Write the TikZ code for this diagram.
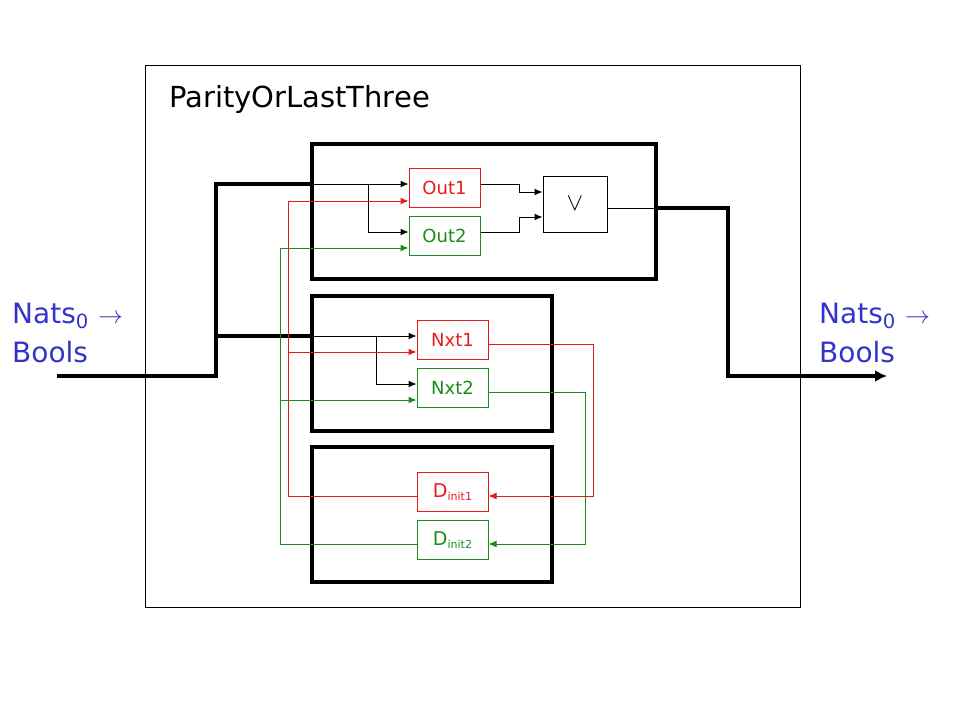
\documentclass[tikz,border=0pt]{standalone}
\usepackage{fontspec}
\setmainfont{DejaVu Sans}
\usetikzlibrary{arrows.meta,calc}
\definecolor{myred}{RGB}{235,25,25}
\definecolor{mygreen}{RGB}{25,140,25}
\definecolor{myblue}{RGB}{51,51,204}
\tikzset{
  outerbox/.style={draw=black,line width=1pt,rectangle,inner sep=0pt},
  bigbox/.style={draw=black,line width=4pt,rectangle,inner sep=0pt,minimum width=240pt,minimum height=135pt},
  blkbox/.style={draw=black,line width=1pt,rectangle,inner sep=0pt},
  redbox/.style={draw=myred,text=myred,line width=1pt,rectangle,inner sep=0pt,minimum width=71pt,minimum height=39pt,font=\fontsize{18}{18}\selectfont},
  grnbox/.style={draw=mygreen,text=mygreen,line width=1pt,rectangle,inner sep=0pt,minimum width=71pt,minimum height=39pt,font=\fontsize{18}{18}\selectfont},
  wire/.style={line width=1pt,draw=black},
  rwire/.style={line width=1pt,draw=myred},
  gwire/.style={line width=1pt,draw=mygreen},
  bus/.style={line width=4pt,draw=black},
  arr/.style={-{Latex[length=8pt,width=7pt]}},
  bigarr/.style={-{Latex[length=12pt,width=12pt]}},
  lbl/.style={text=myblue,align=left,font=\fontsize{28}{39}\selectfont,inner sep=0pt}
}
\newcommand{\dsub}[1]{{\fontsize{19}{19}\selectfont D}\raisebox{-3pt}{\fontsize{11}{11}\selectfont #1}}
\begin{document}
\begin{tikzpicture}[x=1pt,y=-1pt]
\useasboundingbox (0,0) rectangle (960,720);
% outer frame
\node[outerbox,minimum width=655pt,minimum height=542pt] (outer) at (472.5,336) {};
\node[anchor=base west,inner sep=0pt,font=\fontsize{29}{29}\selectfont] (title) at (169,107) {ParityOrLastThree};
% big boxes
\node[bigbox,minimum width=344pt] (top) at (484,211.5) {};
\node[bigbox] (mid) at (432,363.5) {};
\node[bigbox] (bot) at (432,514.5) {};
% inner boxes
\node[redbox] (Out1) at (444.5,188) {Out1};
\node[grnbox] (Out2) at (444.5,236) {Out2};
\node[blkbox,minimum width=64pt,minimum height=56pt] (Or) at (575,204) {\fontsize{26}{26}\selectfont$\vee$};
\node[redbox] (Nxt1) at (452.5,340) {Nxt1};
\node[grnbox] (Nxt2) at (452.5,388) {Nxt2};
\node[redbox] (D1) at (452.5,492) {\dsub{init1}};
\node[grnbox] (D2) at (452.5,540) {\dsub{init2}};
% labels
\node[lbl,anchor=base west] (inlbl) at (12,362) {Nats\textsubscript{0}\,\,{\fontsize{32}{32}\selectfont$\rightarrow$}\\Bools};
\node[lbl,anchor=base west] (outlbl) at (819,362) {Nats\textsubscript{0}\,\,{\fontsize{32}{32}\selectfont$\rightarrow$}\\Bools};
% coordinates
\coordinate (inL) at (57,376);
\coordinate (busT) at (216,184);
\coordinate (busM) at (216,336);
\coordinate (brO) at (368,184);
\coordinate (brN) at (376,336);
\coordinate (rcol) at (288,201);
\coordinate (rN) at (288,352);
\coordinate (gcol) at (280,248);
\coordinate (gN) at (280,400);
\coordinate (outR) at (728,208);
\coordinate (outEnd) at (887,376);
% thick input bus
\draw[bus] (inL) -| (busT) -- (busT -| top.west);
\draw[bus] (busM) -- (busM -| mid.west);
% thin input wires
\draw[wire,arr] (busT -| top.west) -- (busT -| Out1.west);
\draw[wire,arr] (brO) |- ([shift={(0,-4)}]Out2.west);
\draw[wire,arr] (busM -| mid.west) -- (busM -| Nxt1.west);
\draw[wire,arr] (brN) |- ([shift={(0,-4)}]Nxt2.west);
% Out -> or
\draw[wire,arr] ([shift={(0,-4)}]Out1.east) -- ++(39,0) |- ([shift={(0,-12)}]Or.west);
\draw[wire,arr] ([shift={(0,-4)}]Out2.east) -- ++(39,0) |- ([shift={(0,13)}]Or.west);
% or -> output
\draw[wire] ([shift={(0,4)}]Or.east) -- (outR -| top.east);
\draw[bus] (outR -| top.east) -- (outR) |- ($(outEnd)+(-10,0)$);
\draw[bus,bigarr] ($(outEnd)+(-12,0)$) -- (outEnd);
% red feedback
\draw[rwire,arr] ([shift={(0,4)}]D1.west) -| (rcol) -- (rcol -| Out1.west);
\draw[rwire,arr] (rN) -- (rN -| Nxt1.west);
\draw[rwire,arr] ([shift={(0,4)}]Nxt1.east) -| ($(D1.east)+(105,4)$) -- ([shift={(0,4)}]D1.east);
% green feedback
\draw[gwire,arr] ([shift={(0,4)}]D2.west) -| (gcol) -- (gcol -| Out2.west);
\draw[gwire,arr] (gN) -- (gN -| Nxt2.west);
\draw[gwire,arr] ([shift={(0,4)}]Nxt2.east) -| ($(D2.east)+(97,4)$) -- ([shift={(0,4)}]D2.east);
\end{tikzpicture}
\end{document}
